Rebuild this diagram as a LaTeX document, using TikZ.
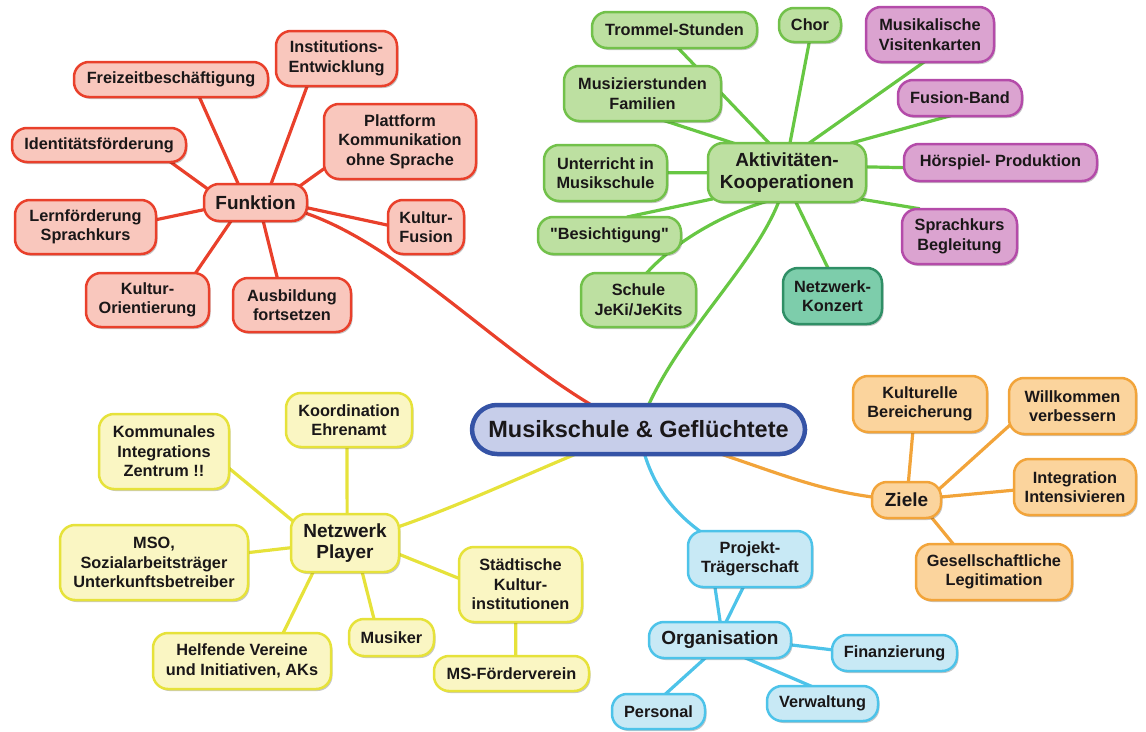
\documentclass[tikz,border=0pt]{standalone}
\usepackage{fontspec}
\setmainfont{Liberation Sans}
\usetikzlibrary{shadows,backgrounds}
\definecolor{redfill}{HTML}{F9C7BD}
\definecolor{redline}{HTML}{E9402B}
\definecolor{grfill}{HTML}{BDE0A1}
\definecolor{grline}{HTML}{72C14A}
\definecolor{pufill}{HTML}{DBA3D0}
\definecolor{puline}{HTML}{B44BA9}
\definecolor{tefill}{HTML}{7DCDAB}
\definecolor{teline}{HTML}{2F8F66}
\definecolor{yefill}{HTML}{FAF6C3}
\definecolor{yeline}{HTML}{E6E23A}
\definecolor{orfill}{HTML}{FBD49D}
\definecolor{orline}{HTML}{F2A43A}
\definecolor{blfill}{HTML}{C8E9F5}
\definecolor{blline}{HTML}{4DC3E9}
\definecolor{cefill}{HTML}{C7CEEA}
\definecolor{celine}{HTML}{3553A6}
\definecolor{txt}{HTML}{1A1718}
\tikzset{
 bub/.style={draw, line width=2.5pt, rounded corners=15pt, align=center, inner sep=2pt, text=txt,
   font=\fontsize{16.3}{19.5}\selectfont\bfseries,
   drop shadow={shadow xshift=1.5pt, shadow yshift=-2pt, opacity=0.22, fill=black}},
 big/.style={font=\fontsize{19}{21.5}\selectfont\bfseries},
 rb/.style={bub, fill=redfill, draw=redline},
 gb/.style={bub, fill=grfill, draw=grline},
 pb/.style={bub, fill=pufill, draw=puline},
 tb/.style={bub, fill=tefill, draw=teline},
 yb/.style={bub, fill=yefill, draw=yeline},
 ob/.style={bub, fill=orfill, draw=orline},
 bb/.style={bub, fill=blfill, draw=blline},
 con/.style={line width=3.2pt, line cap=round, shorten <=-6pt, shorten >=-6pt},
 rcon/.style={con, draw=redline},
 gcon/.style={con, draw=grline!90!green},
 ycon/.style={con, draw=yeline},
 ocon/.style={con, draw=orline},
 bcon/.style={con, draw=blline}
}
\begin{document}
\begin{tikzpicture}[x=1pt,y=-1pt]
\useasboundingbox (0,0) rectangle (1146,731);
% central
\node[draw=celine, fill=cefill, line width=4.5pt, rounded corners=25pt, minimum width=333pt, minimum height=49pt,
  text=txt, font=\fontsize{23.5}{26}\selectfont\bfseries,
  drop shadow={shadow xshift=1.5pt, shadow yshift=-2pt, opacity=0.22, fill=black}] (cen) at (638.5,429.5) {Musikschule \& Geflüchtete};
% red
\node[rb, big, minimum width=103pt, minimum height=37pt] (funk) at (255.5,202.5) {Funktion};
\node[rb, minimum width=194pt, minimum height=35pt] (frei) at (171,79.5) {Freizeitbeschäftigung};
\node[rb, minimum width=121pt, minimum height=55pt] (inst) at (336.5,58.5) {Institutions-\\Entwicklung};
\node[rb, minimum width=174pt, minimum height=34pt] (ident) at (99,145) {Identitätsförderung};
\node[rb, minimum width=152pt, minimum height=75pt] (platt) at (400,141.5) {Plattform\\Kommunikation\\ohne Sprache};
\node[rb, minimum width=141pt, minimum height=54pt] (lern) at (85.5,227) {Lernförderung\\Sprachkurs};
\node[rb, minimum width=76pt, minimum height=54pt] (kfus) at (426,227) {Kultur-\\Fusion};
\node[rb, minimum width=123pt, minimum height=54pt] (kori) at (147.5,300) {Kultur-\\Orientierung};
\node[rb, minimum width=118pt, minimum height=54pt] (ausb) at (292,305) {Ausbildung\\fortsetzen};
% green
\node[gb, big, minimum width=158pt, minimum height=59pt] (akt) at (787,172.5) {Aktivitäten-\\Kooperationen};
\node[gb, minimum width=165pt, minimum height=36pt] (trom) at (674.5,30) {Trommel-Stunden};
\node[gb, minimum width=62pt, minimum height=34pt] (chor) at (810,25) {Chor};
\node[gb, minimum width=157pt, minimum height=55pt] (musi) at (642.5,93.5) {Musizierstunden\\Familien};
\node[gb, minimum width=123pt, minimum height=56pt] (unt) at (605.5,173) {Unterricht in\\Musikschule};
\node[gb, minimum width=143pt, minimum height=37pt] (bes) at (609.5,235.5) {\textquotedbl Besichtigung\textquotedbl};
\node[gb, minimum width=115pt, minimum height=54pt] (sch) at (638.5,300) {Schule\\JeKi/JeKits};
\node[tb, minimum width=99pt, minimum height=56pt] (nk) at (832.5,296) {Netzwerk-\\Konzert};
\node[pb, minimum width=128pt, minimum height=55pt] (visit) at (930,34.5) {Musikalische\\Visitenkarten};
\node[pb, minimum width=124pt, minimum height=36pt] (fband) at (960,98) {Fusion-Band};
\node[pb, minimum width=193pt, minimum height=37pt] (hoer) at (1000.5,162.5) {Hörspiel- Produktion};
\node[pb, minimum width=115pt, minimum height=55pt] (spr) at (959.5,236.5) {Sprachkurs\\Begleitung};
% yellow
\node[yb, big, minimum width=108pt, minimum height=58pt] (np) at (345,543) {Netzwerk\\Player};
\node[yb, minimum width=126pt, minimum height=54pt] (koord) at (349,420) {Koordination\\Ehrenamt};
\node[yb, minimum width=130pt, minimum height=75pt] (komm) at (164,451.5) {Kommunales\\Integrations\\Zentrum !!};
\node[yb, minimum width=188pt, minimum height=75pt] (mso) at (154,562.5) {MSO,\\Sozialarbeitsträger\\Unterkunftsbetreiber};
\node[yb, minimum width=178pt, minimum height=56pt] (helf) at (242,661) {Helfende Vereine\\und Initiativen, AKs};
\node[yb, minimum width=85pt, minimum height=37pt] (musk) at (391.5,637.5) {Musiker};
\node[yb, minimum width=123pt, minimum height=75pt] (staedt) at (520.5,584.5) {Städtische\\Kultur-\\institutionen};
\node[yb, minimum width=155pt, minimum height=35pt] (msf) at (511.5,673.5) {MS-Förderverein};
% orange
\node[ob, big, minimum width=69pt, minimum height=36pt] (ziele) at (906.5,500) {Ziele};
\node[ob, minimum width=134pt, minimum height=56pt] (kult) at (920,404) {Kulturelle\\Bereicherung};
\node[ob, minimum width=127pt, minimum height=56pt] (willk) at (1072.5,406) {Willkommen\\verbessern};
\node[ob, minimum width=122pt, minimum height=56pt] (integ) at (1075,487) {Integration\\Intensivieren};
\node[ob, minimum width=156pt, minimum height=56pt] (gesell) at (994,572) {Gesellschaftliche\\Legitimation};
% blue
\node[bb, minimum width=124pt, minimum height=56pt] (proj) at (750,559) {Projekt-\\Trägerschaft};
\node[bb, big, minimum width=142pt, minimum height=36pt] (org) at (720,640) {Organisation};
\node[bb, minimum width=125pt, minimum height=36pt] (fin) at (894.5,653) {Finanzierung};
\node[bb, minimum width=111pt, minimum height=35pt] (verw) at (822.5,703.5) {Verwaltung};
\node[bb, minimum width=93pt, minimum height=35pt] (pers) at (658.5,711.5) {Personal};
\begin{scope}[on background layer]
% red
\draw[rcon] (funk.132) -- (frei.-33);
\draw[rcon] (funk.51) -- (inst.224);
\draw[rcon] (funk.162) -- (ident.-14);
\draw[rcon] (funk.22) -- (platt.200);
\draw[rcon] (funk.188) -- (lern.6);
\draw[rcon] (funk.-6) -- (kfus.177);
\draw[rcon] (funk.218) -- (kori.30);
\draw[rcon] (funk.292) -- (ausb.118);
\draw[rcon] (funk.center) .. controls (380,205) and (507,376) .. (cen.center);
% green
\draw[gcon] (akt.122) -- (trom.284);
\draw[gcon] (akt.152) -- (musi.-47);
\draw[gcon] (akt.84) -- (chor.267);
\draw[gcon] (akt) -- (unt);
\draw[gcon] (akt.199) -- (bes.40);
\draw[gcon] (akt.229) .. controls (720,215) and (670,245) .. (sch.72);
\draw[gcon] (akt.-73) -- (nk.100);
\draw[gcon] (akt.52) -- (visit.255);
\draw[gcon] (akt.24) -- (fband.232);
\draw[gcon] (akt.4) -- (hoer.183);
\draw[gcon] (akt.-19) -- (spr.148);
\draw[gcon] (akt.center) .. controls (780,250) and (670,330) .. (cen.center);
% yellow
\draw[ycon] (np.86) -- (koord.266);
\draw[ycon] (np.156) -- (komm.-15);
\draw[ycon] (np.185) -- (mso.6);
\draw[ycon] (np.223) -- (helf.35);
\draw[ycon] (np.-60) -- (musk.132);
\draw[ycon] (np.-12) -- (staedt.174);
\draw[ycon] (staedt.-97) -- (msf.77);
\draw[ycon] (np.center) .. controls (440,520) and (550,460) .. (cen.center);
% orange
\draw[ocon] (ziele.84) -- (kult.-104);
\draw[ocon] (ziele.21) -- (willk.198);
\draw[ocon] (ziele.5) -- (integ.183);
\draw[ocon] (ziele.-36) -- (gesell.145);
\draw[ocon] (cen.center) .. controls (760,460) and (810,497) .. (ziele.center);
% blue
\draw[bcon] (cen.center) .. controls (648,490) and (680,530) .. (proj.center);
\draw[bcon] (proj.220) -- (org.90);
\draw[bcon] (proj.256) -- (org.71);
\draw[bcon] (org.-4) -- (fin.177);
\draw[bcon] (org.-34) -- (verw.128);
\draw[bcon] (org.230) -- (pers.66);
\end{scope}
\end{tikzpicture}
\end{document}
